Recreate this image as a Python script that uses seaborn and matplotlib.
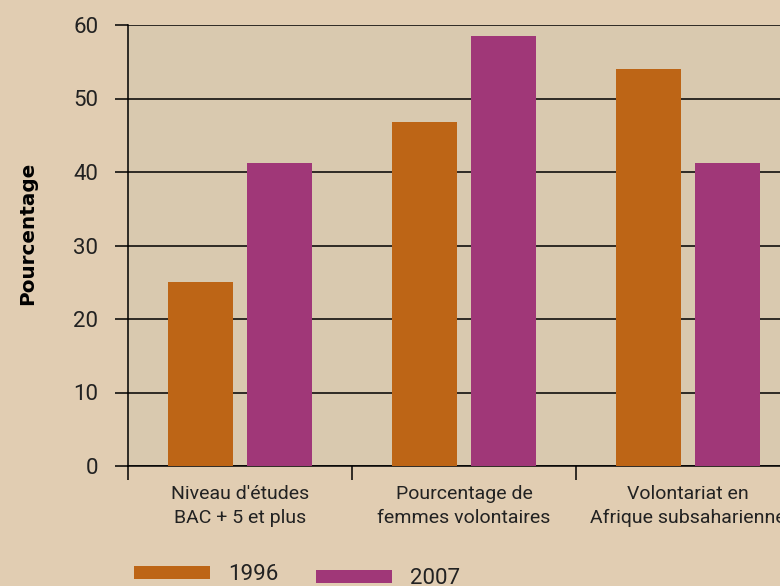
import matplotlib
matplotlib.use("Agg")
import matplotlib.pyplot as plt
import seaborn as sns
import pandas as pd
from matplotlib.ticker import FixedLocator, NullFormatter
from matplotlib.patches import Patch

categories = ["Niveau d'études\nBAC + 5 et plus",
              "Pourcentage de\nfemmes volontaires",
              "Volontariat en\nAfrique subsaharienne"]
years = ["1996", "2007"]
values_1996 = [25.0, 46.8, 54.0]
values_2007 = [41.2, 58.5, 41.2]
y_ticks = [0, 10, 20, 30, 40, 50, 60]
y_label = "Pourcentage"

colors = {"1996": "#BD6516", "2007": "#A03778"}
outer_bg = "#E1CDB2"
inner_bg = "#D9C9AF"
text_col = "#222222"

df = pd.DataFrame({
    "cat": categories * 2,
    "year": [years[0]] * 3 + [years[1]] * 3,
    "val": values_1996 + values_2007,
})

fam = ["Roboto", "DejaVu Sans"]
plt.rcParams['font.family'] = fam

fig = plt.figure(figsize=(7.8, 5.86), dpi=100, facecolor=outer_bg)
ax = fig.add_axes([128/780, 120/586, 672/780, 441/586])
ax.set_facecolor(inner_bg)

sns.barplot(data=df, x="cat", y="val", hue="year", palette=colors,
            width=0.7, gap=0.17, saturation=1, ax=ax, legend=False, zorder=3)

ax.set_xlim(-0.5, 2.5)
ax.set_ylim(0, 60)
ax.set_yticks(y_ticks)
ax.set_yticklabels([str(t) for t in y_ticks], fontsize=16, color=text_col)
ax.tick_params(axis="y", length=9.5, width=1.1, pad=12, color="black")

ax.xaxis.set_major_locator(FixedLocator([-0.5, 0.5, 1.5]))
ax.xaxis.set_major_formatter(NullFormatter())
ax.xaxis.set_minor_locator(FixedLocator([0, 1, 2]))
ax.set_xticklabels(categories, minor=True, fontsize=14, color=text_col,
                   linespacing=1.4)
ax.tick_params(axis="x", which="major", length=10, width=1.1, color="black", direction="out")
ax.tick_params(axis="x", which="minor", length=0, pad=14)

ax.grid(axis="y", color="black", linewidth=1.1, zorder=0)
ax.set_axisbelow(True)
for s in ["top", "right"]:
    ax.spines[s].set_visible(False)
for s in ["left", "bottom"]:
    ax.spines[s].set_color("black")
    ax.spines[s].set_linewidth(1.1)

ax.set_xlabel("")
ax.set_ylabel(y_label, fontsize=14.4, fontweight="bold",
              family=["DejaVu Sans"], labelpad=26, color="black")
ax.yaxis.label.set_y((466 - 233) / 441)

leg_prop = {"family": fam, "size": 16}
h1 = [Patch(facecolor=colors[years[0]], edgecolor="none")]
h2 = [Patch(facecolor=colors[years[1]], edgecolor="none")]
leg1 = fig.legend(h1, [years[0]], loc="center left",
                  bbox_to_anchor=(134/780, 1 - 575/586), frameon=False,
                  handlelength=3.4, handleheight=0.5, handletextpad=0.85,
                  borderpad=0, borderaxespad=0, prop=leg_prop)
leg2 = fig.legend(h2, [years[1]], loc="center left",
                  bbox_to_anchor=(316/780, 1 - 579/586), frameon=False,
                  handlelength=3.4, handleheight=0.5, handletextpad=0.85,
                  borderpad=0, borderaxespad=0, prop=leg_prop)
for lg in (leg1, leg2):
    for t in lg.get_texts():
        t.set_color(text_col)

fig.savefig("out.png", dpi=100, facecolor=outer_bg)
